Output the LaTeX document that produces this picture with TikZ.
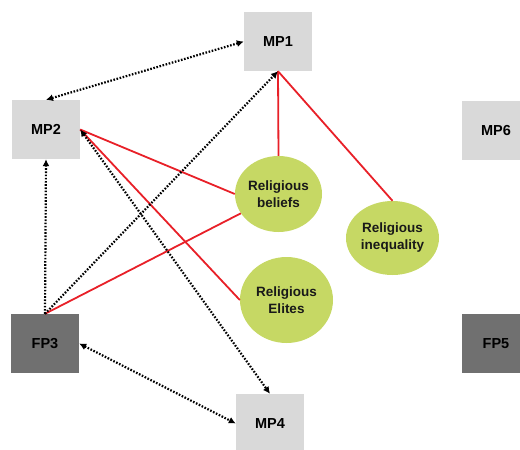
\documentclass[tikz,border=0pt]{standalone}
\usepackage{fontspec}
\setmainfont{Liberation Sans}
\usepackage{xcolor}
\usepackage{tikz}
\usetikzlibrary{positioning,shapes.geometric,arrows.meta}
\definecolor{BoxLight}{RGB}{217,217,217}
\definecolor{BoxDark}{RGB}{112,112,112}
\definecolor{FactorGreen}{RGB}{198,216,100}
\definecolor{LinkRed}{RGB}{232,32,40}
\tikzset{
    boxnode/.style={rectangle, fill=BoxLight, minimum width=68pt, minimum height=59pt, inner sep=0pt, font=\fontsize{14.5}{17}\selectfont\bfseries},
    darkbox/.style={boxnode, fill=BoxDark},
    factor/.style={ellipse, fill=FactorGreen, inner sep=0pt, align=center, text=black!90, font=\fontsize{13.5}{17}\selectfont\bfseries}
}
\begin{document}
\begin{tikzpicture}[
        x=1pt, y=-1pt,
        % --- DUONG NOI ---
        redlink/.style={draw=LinkRed, line width=1.8pt},
        dotlink/.style={draw=black, line width=2.2pt, dash pattern=on 1.6pt off 1.6pt, {Latex[length=7pt,width=7pt]}-{Latex[length=7pt,width=7pt]}},
        dotone/.style={draw=black, line width=2.2pt, dash pattern=on 1.6pt off 1.6pt, -{Latex[length=7pt,width=7pt]}}
    ]
        \useasboundingbox (0,0) rectangle (520,450);
        \clip (0,0) rectangle (520,450);

        % --- CAC HOP ---
        \node[boxnode] (MP1) at (278,41.5) {MP1};
        \node[boxnode] (MP2) at (46,129.5) {MP2};
        \node[boxnode] (MP6) at (496,130.5) {MP6};
        \node[darkbox] (FP3) at (45,343.5) {FP3};
        \node[darkbox] (FP5) at (496,343.5) {FP5};
        \node[boxnode] (MP4) at (270,423.5) {MP4};

        % --- CAC YEU TO ---
        \node[factor, minimum width=87pt, minimum height=76pt] (beliefs) at (278.5,194) {Religious\\beliefs};
        \node[factor, minimum width=93pt, minimum height=74pt] (inequality) at (392.5,238) {Religious\\inequality};
        \node[factor, minimum width=93pt, minimum height=86pt] (elites) at (286.5,300) {Religious\\Elites};

        % --- DUONG DO ---
        \draw[redlink] (MP1.south) -- (beliefs.north);
        \draw[redlink] (MP1.south) -- (inequality.north);
        \draw[redlink] (MP2.east) -- (beliefs.west);
        \draw[redlink] (MP2.east) -- (elites.west);
        \draw[redlink] (FP3.north) -- (beliefs);

        % --- DUONG CHAM ---
        \draw[dotlink] (MP2.north) -- (MP1.west);
        \draw[dotone] (FP3.north) -- (MP2.south);
        \draw[dotone] (FP3.north) -- (MP1.south);
        \draw[dotlink] (MP2.east) -- (MP4.north);
        \draw[dotlink] (FP3.east) -- (MP4.west);

    \end{tikzpicture}
\end{document}
